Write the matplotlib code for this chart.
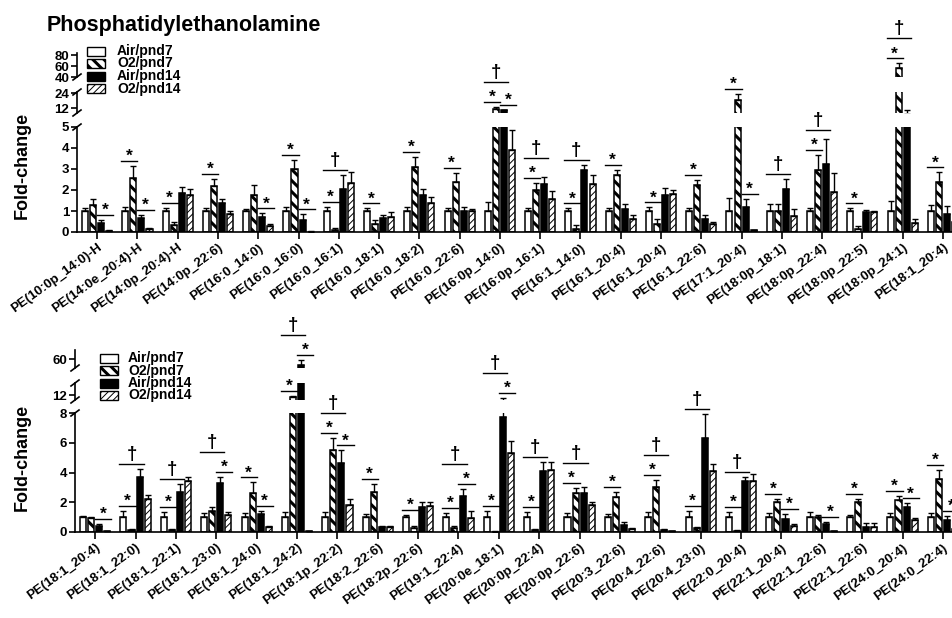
import numpy as np
import matplotlib
matplotlib.use('Agg')
import matplotlib.pyplot as plt
from matplotlib.patches import Rectangle
from matplotlib.lines import Line2D
from matplotlib.transforms import Affine2D

plt.rcParams['font.family'] = ['Liberation Sans', 'DejaVu Sans']
plt.rcParams['font.weight'] = 'bold'
plt.rcParams['axes.linewidth'] = 1.2

series = ['Air/pnd7', 'O2/pnd7', 'Air/pnd14', 'O2/pnd14']

# ---------------- top panel data ----------------
top_labels = ['PE(10:0p_14:0)-H', 'PE(14:0e_20:4)-H', 'PE(14:0p_20:4)-H', 'PE(14:0p_22:6)',
              'PE(16:0_14:0)', 'PE(16:0_16:0)', 'PE(16:0_16:1)', 'PE(16:0_18:1)', 'PE(16:0_18:2)',
              'PE(16:0_22:6)', 'PE(16:0p_14:0)', 'PE(16:0p_16:1)', 'PE(16:1_14:0)', 'PE(16:1_20:4)',
              'PE(16:1_20:4)', 'PE(16:1_22:6)', 'PE(17:1_20:4)', 'PE(18:0p_18:1)', 'PE(18:0p_22:4)',
              'PE(18:0p_22:5)', 'PE(18:0p_24:1)', 'PE(18:1_20:4)']
top_air7 = [1.0, 1.0, 1.0, 1.0, 1.0, 1.0, 1.0, 1.0, 1.0, 1.0, 1.0, 1.0, 1.0, 1.0, 1.0, 1.0, 1.0, 1.0, 1.0, 1.0, 1.0, 1.0]
top_air7_err = [0.12, 0.17, 0.15, 0.12, 0.08, 0.20, 0.20, 0.12, 0.20, 0.15, 0.44, 0.12, 0.12, 0.15, 0.17, 0.12, 0.63, 0.31, 0.15, 0.12, 0.47, 0.30]
top_o2p7 = [1.28, 2.56, 0.31, 2.19, 1.78, 3.00, 0.10, 0.38, 3.10, 2.40, 11.2, 1.98, 0.14, 2.73, 0.39, 2.22, 18.5, 1.02, 2.97, 0.14, 56.0, 2.40]
top_o2p7_err = [0.30, 0.60, 0.18, 0.34, 0.44, 0.44, 0.10, 0.20, 0.48, 0.40, 1.9, 0.35, 0.20, 0.24, 0.23, 0.27, 4.9, 0.30, 0.70, 0.13, 9.0, 0.44]
top_air14 = [0.45, 0.66, 1.86, 1.40, 0.73, 0.58, 2.06, 0.66, 1.75, 1.00, 10.4, 2.30, 2.95, 1.08, 1.78, 0.62, 1.17, 2.06, 3.23, 0.97, 7.0, 0.84]
top_air14_err = [0.13, 0.15, 0.28, 0.16, 0.16, 0.26, 0.67, 0.16, 0.31, 0.20, 0.3, 0.34, 0.25, 0.23, 0.33, 0.19, 0.39, 0.47, 1.20, 0.08, 3.4, 0.39]
top_o2p14 = [0.07, 0.14, 1.75, 0.84, 0.27, 0.02, 2.33, 0.70, 1.40, 1.00, 3.90, 1.55, 2.30, 0.61, 1.83, 0.39, 0.08, 0.77, 1.90, 0.97, 0.45, 0.50]
top_o2p14_err = [0.03, 0.07, 0.30, 0.17, 0.12, 0.02, 0.55, 0.27, 0.27, 0.10, 0.95, 0.39, 0.42, 0.20, 0.15, 0.08, 0.02, 0.32, 0.90, 0.05, 0.17, 0.10]
# (group, first bar, last bar, symbol)
top_annots = [(0, 2, 3, '*'), (1, 0, 1, '*'), (1, 2, 3, '*'), (2, 0, 1, '*'), (3, 0, 1, '*'),
              (4, 2, 3, '*'), (5, 0, 1, '*'), (5, 2, 3, '*'), (6, 0, 1, '*'), (6, 0, 2, '†'),
              (7, 0, 1, '*'), (8, 0, 1, '*'), (9, 0, 1, '*'), (10, 0, 1, '*'), (10, 2, 3, '*'),
              (10, 0, 2, '†'), (11, 0, 1, '*'), (11, 0, 2, '†'), (12, 0, 1, '*'), (12, 0, 2, '†'),
              (13, 0, 1, '*'), (14, 0, 1, '*'), (15, 0, 1, '*'), (16, 0, 1, '*'), (16, 2, 3, '*'),
              (17, 0, 2, '†'), (18, 0, 1, '*'), (18, 0, 2, '†'), (19, 0, 1, '*'), (20, 0, 1, '*'),
              (20, 0, 2, '†'), (21, 0, 1, '*')]

# ---------------- bottom panel data ----------------
bot_labels = ['PE(18:1_20:4)', 'PE(18:1_22:0)', 'PE(18:1_22:1)', 'PE(18:1_23:0)', 'PE(18:1_24:0)',
              'PE(18:1_24:2)', 'PE(18:1p_22:2)', 'PE(18:2_22:6)', 'PE(18:2p_22:6)', 'PE(19:1_22:4)',
              'PE(20:0e_18:1)', 'PE(20:0p_22:4)', 'PE(20:0p_22:6)', 'PE(20:3_22:6)', 'PE(20:4_22:6)',
              'PE(20:4_23:0)', 'PE(22:0_20:4)', 'PE(22:1_20:4)', 'PE(22:1_22:6)', 'PE(22:1_22:6)',
              'PE(24:0_20:4)', 'PE(24:0_22:4)']
bot_air7 = [1.0, 1.0, 1.0, 1.0, 1.0, 1.0, 1.0, 1.0, 1.0, 1.0, 1.0, 1.0, 1.0, 1.0, 1.0, 1.0, 1.0, 1.0, 1.0, 1.0, 1.0, 1.0]
bot_air7_err = [0.08, 0.40, 0.34, 0.29, 0.30, 0.35, 0.34, 0.18, 0.15, 0.27, 0.40, 0.34, 0.27, 0.20, 0.34, 0.40, 0.34, 0.27, 0.34, 0.15, 0.27, 0.27]
bot_o2p7 = [0.92, 0.16, 0.16, 1.42, 2.65, 11.6, 5.48, 2.72, 0.25, 0.30, 0.03, 0.14, 2.65, 2.38, 3.00, 0.25, 0.10, 1.99, 1.03, 2.04, 2.15, 3.57]
bot_o2p7_err = [0.10, 0.05, 0.03, 0.25, 0.68, 0.2, 0.83, 0.50, 0.18, 0.13, 0.02, 0.03, 0.30, 0.34, 0.50, 0.07, 0.03, 0.23, 0.10, 0.18, 0.27, 0.60]
bot_air14 = [0.42, 3.72, 2.67, 3.27, 1.19, 56.7, 4.62, 0.31, 1.70, 2.42, 7.76, 4.13, 2.65, 0.46, 0.14, 6.30, 3.43, 0.87, 0.51, 0.36, 1.70, 0.81]
bot_air14_err = [0.15, 0.50, 0.54, 0.45, 0.25, 2.7, 0.86, 0.10, 0.30, 0.47, 3.65, 0.57, 0.40, 0.23, 0.05, 1.63, 0.30, 0.34, 0.18, 0.27, 0.23, 0.25]
bot_o2p14 = [0.05, 2.20, 3.43, 1.14, 0.36, 0.05, 1.81, 0.31, 1.75, 0.92, 5.34, 4.18, 1.81, 0.17, 0.05, 4.11, 3.45, 0.42, 0.04, 0.36, 0.81, 0.20]
bot_o2p14_err = [0.02, 0.29, 0.29, 0.18, 0.06, 0.02, 0.40, 0.12, 0.30, 0.52, 0.75, 0.50, 0.22, 0.10, 0.02, 0.45, 0.45, 0.11, 0.02, 0.23, 0.10, 0.05]
bot_annots = [(0, 2, 3, '*'), (1, 0, 1, '*'), (1, 0, 2, '†'), (2, 0, 1, '*'), (2, 0, 2, '†'),
              (3, 2, 3, '*'), (3, 0, 2, '†'), (4, 0, 1, '*'), (4, 2, 3, '*'), (5, 0, 1, '*'),
              (5, 2, 3, '*'), (5, 0, 2, '†'), (6, 0, 1, '*'), (6, 2, 3, '*'), (6, 0, 2, '†'),
              (7, 0, 1, '*'), (8, 0, 1, '*'), (9, 0, 1, '*'), (9, 2, 3, '*'), (9, 0, 2, '†'),
              (10, 0, 1, '*'), (10, 2, 3, '*'), (10, 0, 2, '†'), (11, 0, 1, '*'), (11, 0, 2, '†'),
              (12, 0, 1, '*'), (12, 0, 2, '†'), (13, 0, 1, '*'), (14, 0, 1, '*'), (14, 0, 2, '†'),
              (15, 0, 1, '*'), (15, 0, 2, '†'), (16, 0, 1, '*'), (16, 0, 2, '†'), (17, 0, 1, '*'),
              (17, 2, 3, '*'), (18, 2, 3, '*'), (19, 0, 1, '*'), (20, 0, 1, '*'), (20, 2, 3, '*'),
              (21, 0, 1, '*'), (21, 2, 3, '*')]

# ---------------- layout ----------------
W, H = 953, 618
fig = plt.figure(figsize=(W / 100, H / 100), dpi=100)
PX = Affine2D().scale(1.0 / W, -1.0 / H).translate(0, 1) + fig.transFigure
PXinv = PX.inverted()

offsets = [-0.3, -0.1, 0.1, 0.3]
bar_w = 0.15
faces = ['white', 'white', 'black', 'white']
hatches = [None, '\\\\\\', None, '/////']
hatch_lws = [1.0, 2.2, 1.0, 0.7]

# segments: (px top, px bottom, ylow, yhigh, ticks)
top_segs = [(127, 232, 0, 5, [0, 1, 2, 3, 4, 5]), (92, 113, 8, 25, [12, 24]), (53, 77, 40, 84, [40, 60, 80])]
bot_segs = [(413, 532, 0, 8, [0, 2, 4, 6, 8]), (383, 400, 11, 14.5, [12]), (350, 368, 55, 65, [60])]


def set_hlw(patch, lw):
    try:
        patch.set_hatch_linewidth(lw)
    except AttributeError:
        pass


def make_panel(left, segs, labels, vals, errs, annots):
    n = len(labels)
    x = np.arange(n)
    axes = []
    for si, (ptop, pbot, lo, hi, ticks) in enumerate(segs):
        ax = fig.add_axes([left / W, 1 - pbot / H, (W - left) / W, (pbot - ptop) / H])
        ax.patch.set_alpha(0)
        ax.set_xlim(-0.5, n - 0.75)
        ax.set_ylim(lo, hi)
        for k in range(4):
            with plt.rc_context({'hatch.linewidth': hatch_lws[k]}):
                bars = ax.bar(x + offsets[k], vals[k], width=bar_w, color=faces[k],
                              edgecolor='black', linewidth=1.1, hatch=hatches[k], zorder=2)
            for b in bars:
                set_hlw(b, hatch_lws[k])
            ax.errorbar(x + offsets[k], vals[k], yerr=[np.zeros(n), errs[k]], fmt='none',
                        ecolor='black', elinewidth=1.0, capsize=2.2, capthick=1.0, zorder=3)
        ax.spines['top'].set_visible(False)
        ax.spines['right'].set_visible(False)
        ax.set_yticks(ticks)
        ax.set_yticklabels([str(t) for t in ticks])
        ax.tick_params(axis='y', length=4, width=1.2, labelsize=9.5, pad=1.5)
        if si == 0:
            ax.set_xticks(x)
            ax.set_xticklabels(labels, rotation=36, ha='right', va='top',
                               rotation_mode='anchor', fontsize=9.5)
            ax.tick_params(axis='x', length=5, width=1.2, pad=2)
        else:
            ax.spines['bottom'].set_visible(False)
            ax.set_xticks([])
        axes.append(ax)
        # break marks
        ends = []
        if si < len(segs) - 1:
            ends.append(ptop)
        if si > 0:
            ends.append(pbot)
        for yb in ends:
            fig.add_artist(Line2D([left - 4, left + 4], [yb + 3, yb - 3], transform=PX,
                                  color='black', lw=1.2))

    def px_y(val):
        for si, (ptop, pbot, lo, hi, _) in enumerate(segs):
            if val <= hi:
                if val >= lo:
                    disp = axes[si].transData.transform((0, val))
                    return PXinv.transform(disp)[1]
                return segs[si - 1][0]
        return segs[-1][0]

    def px_x(xv):
        disp = axes[0].transData.transform((xv, 0))
        return PXinv.transform(disp)[0]

    placed = {}
    for (g, i, j, sym) in annots:
        y = min(px_y(vals[k][g] + errs[k][g]) for k in range(i, j + 1)) - 5
        for (pi, pj, py) in placed.get(g, []):
            if not (pj < i or pi > j):
                y = min(y, py - 20)
        placed.setdefault(g, []).append((i, j, y))
        x0 = px_x(g + offsets[i] - 0.1)
        x1 = px_x(g + offsets[j] + 0.1)
        fig.add_artist(Line2D([x0, x1], [y, y], transform=PX, color='black', lw=1.0))
        xc = (x0 + x1) / 2
        if sym == '*':
            fig.text(xc, y, '*', transform=PX, ha='center', va='baseline', fontsize=12.5)
        else:
            fig.text(xc, y - 5, '†', transform=PX, ha='center', va='baseline', fontsize=13.5)
    return axes


def legend(px_patch, px_text, rows):
    for k in range(4):
        with plt.rc_context({'hatch.linewidth': hatch_lws[k]}):
            r = Rectangle((px_patch, rows[k] - 4.5), 18, 9, transform=PX, facecolor=faces[k],
                          edgecolor='black', lw=1.0, hatch=hatches[k])
        set_hlw(r, hatch_lws[k])
        fig.add_artist(r)
        fig.text(px_text, rows[k], series[k], transform=PX, va='center', ha='left', fontsize=10)


make_panel(77, top_segs, top_labels,
           [top_air7, top_o2p7, top_air14, top_o2p14],
           [top_air7_err, top_o2p7_err, top_air14_err, top_o2p14_err], top_annots)
make_panel(75, bot_segs, bot_labels,
           [bot_air7, bot_o2p7, bot_air14, bot_o2p14],
           [bot_air7_err, bot_o2p7_err, bot_air14_err, bot_o2p14_err], bot_annots)

legend(87, 117, [51, 63.5, 76, 88.5])
legend(100, 128, [358, 370.5, 383, 395.5])

fig.text(47, 25, 'Phosphatidylethanolamine', transform=PX, ha='left', va='center', fontsize=15.5)
fig.text(22, 165, 'Fold-change', transform=PX, ha='center', va='center', rotation=90, fontsize=13)
fig.text(22, 457, 'Fold-change', transform=PX, ha='center', va='center', rotation=90, fontsize=13)

fig.savefig('out.png', dpi=100)
